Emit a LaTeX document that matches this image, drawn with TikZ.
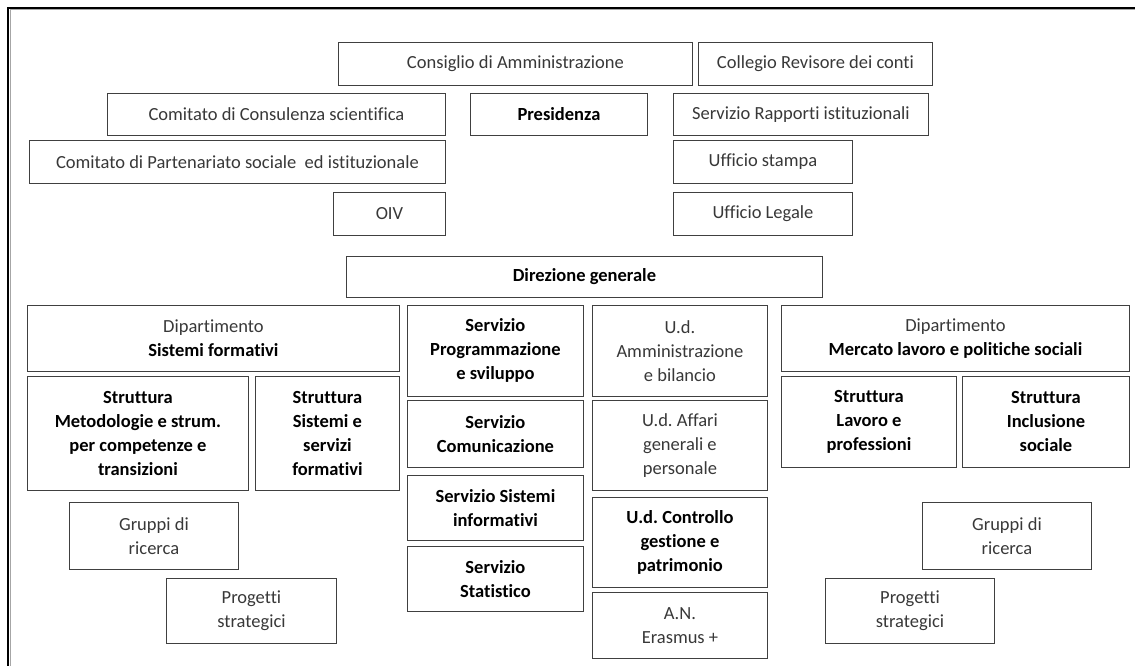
\documentclass[tikz,border=0pt]{standalone}
\usepackage{fontspec}
\setmainfont{Carlito}[Ligatures=NoCommon]
\usepackage{tikz}
\usetikzlibrary{positioning}
\colorlet{boxline}{black!75}
\colorlet{plaintext}{black!78}
\frenchspacing

\tikzset{
  orgbox/.style={draw=boxline, line width=0.9pt, inner sep=0pt, align=center,
    anchor=north west, text=plaintext, font=\fontsize{18.5}{24}\selectfont},
  keybox/.style={orgbox, text=black, font=\fontsize{18.5}{24}\selectfont\bfseries},
}

\begin{document}
\begin{tikzpicture}[x=1pt, y=-1pt]
  \useasboundingbox (0,0) rectangle (1135,666);
  % frame
  \draw[black!35, line width=1pt] (10,666) |- (1135,10);
  \draw[line width=1.6pt] (8,666) |- (1135,8);

  % organi
  \node[orgbox, minimum width=354, minimum height=43] (cda) at (338,42) {Consiglio di Amministrazione};
  \node[orgbox, minimum width=234, minimum height=43] (crc) at (698,42) {Collegio Revisore dei conti};
  \node[orgbox, minimum width=338, minimum height=42] (ccs) at (107,93) {Comitato di Consulenza scientifica};
  \node[keybox, minimum width=177, minimum height=42] (pres) at (470,93) {Presidenza};
  \node[orgbox, minimum width=255, minimum height=42] (sri) at (673,93) {Servizio Rapporti istituzionali};
  \node[orgbox, minimum width=416, minimum height=43] (cps) at (29,140) {Comitato di Partenariato sociale \ ed istituzionale};
  \node[orgbox, minimum width=179, minimum height=43] (ust) at (673,140) {Ufficio stampa};
  \node[orgbox, minimum width=112, minimum height=43] (oiv) at (333,192) {OIV};
  \node[orgbox, minimum width=179, minimum height=43] (ule) at (673,192) {Ufficio Legale};

  \node[keybox, minimum width=476, minimum height=41] (dg) at (346,256) {Direzione generale};

  % dipartimento sistemi formativi
  \node[orgbox, minimum width=372, minimum height=66] (dsf) at (27,305) {Dipartimento\\\textcolor{black}{\bfseries Sistemi formativi}};
  \node[keybox, minimum width=221, minimum height=114] (smst) at (27,376) {Struttura\\Metodologie e strum.\\per competenze e\\transizioni};
  \node[keybox, minimum width=144, minimum height=114] (sss) at (255,376) {Struttura\\Sistemi e\\servizi\\formativi};
  \node[orgbox, minimum width=169, minimum height=67] (grl) at (69,502) {Gruppi di\\ricerca};
  \node[orgbox, minimum width=170, minimum height=65] (psl) at (166,578) {Progetti\\strategici};

  % servizi
  \node[keybox, minimum width=176, minimum height=91] (spr) at (407,305) {Servizio\\Programmazione\\e sviluppo};
  \node[keybox, minimum width=176, minimum height=67] (sco) at (407,400) {Servizio\\Comunicazione};
  \node[keybox, minimum width=176, minimum height=65] (ssi) at (407,475) {Servizio Sistemi\\informativi};
  \node[keybox, minimum width=176, minimum height=65] (sst) at (407,546) {Servizio\\Statistico};

  % unita dirigenziali
  \node[orgbox, minimum width=175, minimum height=91] (uam) at (592,305) {U.d.\\Amministrazione\\e bilancio};
  \node[orgbox, minimum width=175, minimum height=90] (uag) at (592,400) {U.d. Affari\\generali e\\personale};
  \node[keybox, minimum width=175, minimum height=90] (uco) at (592,497) {U.d. Controllo\\gestione e\\patrimonio};
  \node[orgbox, minimum width=175, minimum height=66] (ane) at (592,592) {A.N.\\Erasmus +};

  % dipartimento mercato lavoro
  \node[orgbox, minimum width=348, minimum height=66] (dml) at (781,305) {Dipartimento\\\textcolor{black}{\bfseries Mercato lavoro e politiche sociali}};
  \node[keybox, minimum width=175, minimum height=91] (slp) at (781,376) {Struttura\\Lavoro e\\professioni};
  \node[keybox, minimum width=167, minimum height=91] (sis) at (962,376) {Struttura\\Inclusione\\sociale};
  \node[orgbox, minimum width=169, minimum height=67] (grr) at (922,502) {Gruppi di\\ricerca};
  \node[orgbox, minimum width=169, minimum height=65] (psr) at (825,578) {Progetti\\strategici};
\end{tikzpicture}
\end{document}
